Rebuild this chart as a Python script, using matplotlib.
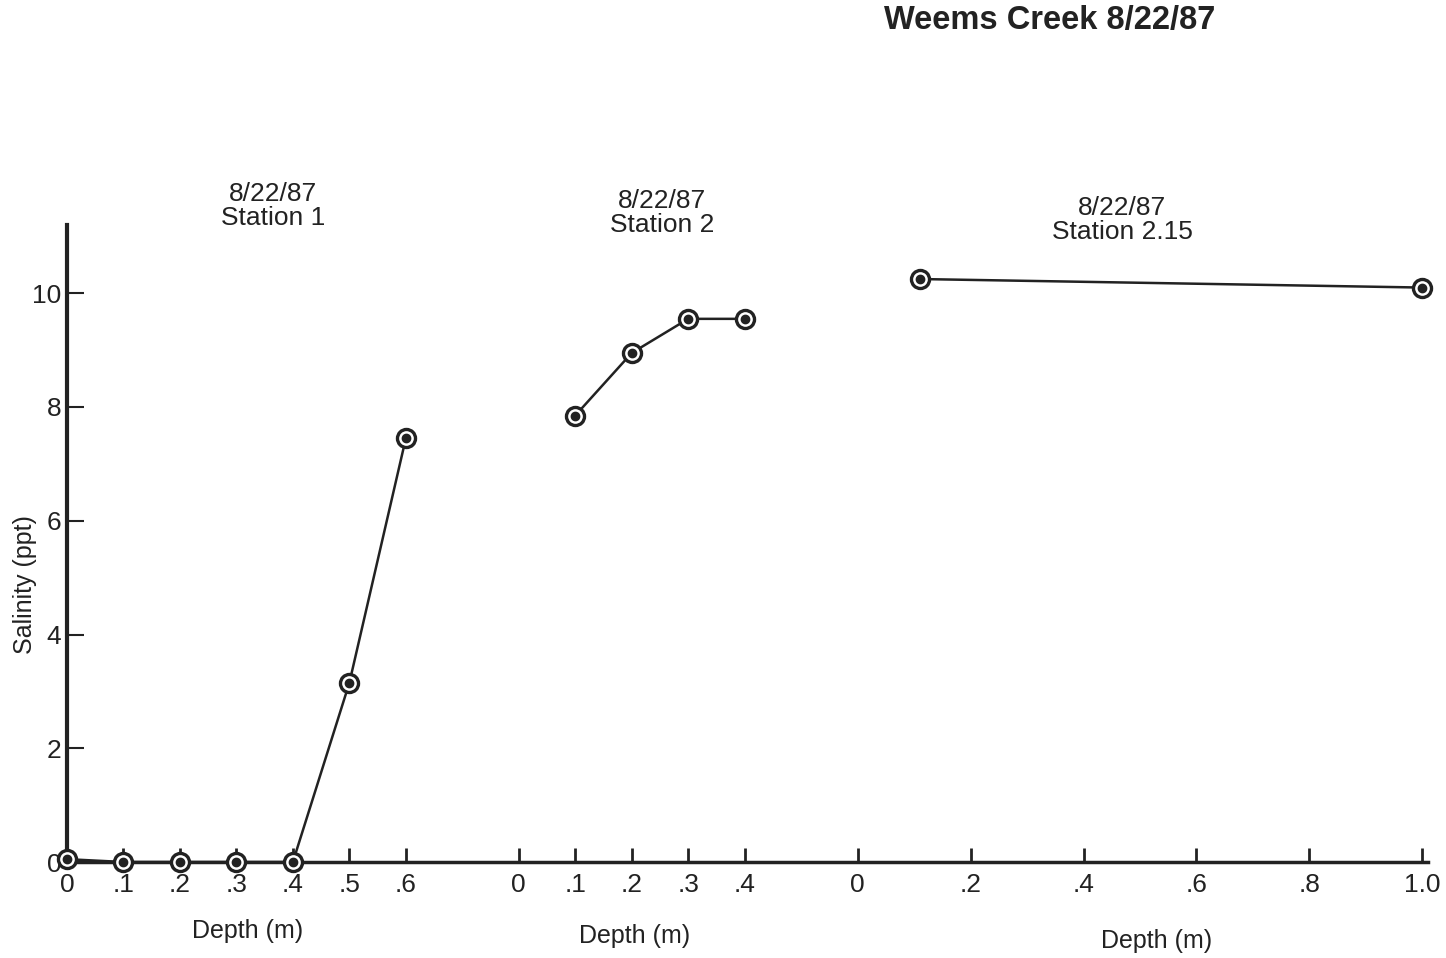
import matplotlib.pyplot as plt

plt.rcParams['font.family'] = ['Liberation Sans', 'DejaVu Sans']

# Salinity (ppt) vs depth (m) at three stations, Weems Creek 8/22/87
st1_depth = [0.0, 0.1, 0.2, 0.3, 0.4, 0.5, 0.6]
st1_sal = [0.05, 0.0, 0.0, 0.0, 0.0, 3.15, 7.45]

st2_depth = [0.1, 0.2, 0.3, 0.4]
st2_sal = [7.85, 8.95, 9.55, 9.55]

st215_depth = [0.11, 1.0]
st215_sal = [10.25, 10.1]

# each station panel shares one baseline, shifted along x
offsets = [0.0, 0.8, 1.4]
tick_sets = [
    ([0, .1, .2, .3, .4, .5, .6], ['0', '.1', '.2', '.3', '.4', '.5', '.6']),
    ([0, .1, .2, .3, .4], ['0', '.1', '.2', '.3', '.4']),
    ([0, .2, .4, .6, .8, 1.0], ['0', '.2', '.4', '.6', '.8', '1.0']),
]
station_names = ['Station 1', 'Station 2', 'Station 2.15']

fig = plt.figure(figsize=(14.46, 9.58), dpi=100)
ax = fig.add_axes([67 / 1446, 96 / 958, (1428 - 67) / 1446, (862 - 225) / 958])

for off, d, s in zip(offsets, [st1_depth, st2_depth, st215_depth],
                     [st1_sal, st2_sal, st215_sal]):
    xs = [off + v for v in d]
    ax.plot(xs, s, color='#222222', lw=1.8, zorder=2, clip_on=False)
    ax.plot(xs, s, 'o', ms=13, mfc='white', mec='#222222', mew=2.4,
            zorder=3, clip_on=False)
    ax.plot(xs, s, 'o', ms=6, color='#222222', zorder=4, clip_on=False)

ax.set_xlim(0, 2.41)
ax.set_ylim(0, 11.2)

for sp in ['top', 'right']:
    ax.spines[sp].set_visible(False)
ax.spines['left'].set_linewidth(3)
ax.spines['bottom'].set_linewidth(2.5)
ax.spines['left'].set_color('#222222')
ax.spines['bottom'].set_color('#222222')

xt, xl = [], []
for off, (t, l) in zip(offsets, tick_sets):
    xt += [off + v for v in t]
    xl += l
ax.set_xticks(xt)
ax.set_xticklabels(xl, fontsize=19, color='#222222')
ax.set_yticks([0, 2, 4, 6, 8, 10])
ax.set_yticklabels(['0', '2', '4', '6', '8', '10'], fontsize=19, color='#222222')
ax.tick_params(axis='x', direction='in', length=10, width=2, pad=8, colors='#222222')
ax.tick_params(axis='y', direction='in', length=12, width=1.5, pad=4, colors='#222222')

ax.set_ylabel('Salinity (ppt)', fontsize=18, color='#222222')
ax.yaxis.set_label_coords(-0.022, 0.435)

for name, xc, yc in zip(station_names, [273, 662, 1122], [206, 213, 220]):
    fig.text(xc / 1446, 1 - yc / 958, '8/22/87\n' + name, ha='center',
             va='center', fontsize=19, color='#222222', linespacing=1.0)

for xc, yc in zip([248, 635, 1157], [931, 936, 941]):
    fig.text(xc / 1446, 1 - yc / 958, 'Depth (m)', ha='center', va='center',
             fontsize=18, color='#222222')

fig.text(1050 / 1446, 1 - 20 / 958, 'Weems Creek 8/22/87', ha='center',
         va='center', fontsize=23.5, fontweight='bold', color='#222222')

fig.savefig('out.png', dpi=100, facecolor='white')
